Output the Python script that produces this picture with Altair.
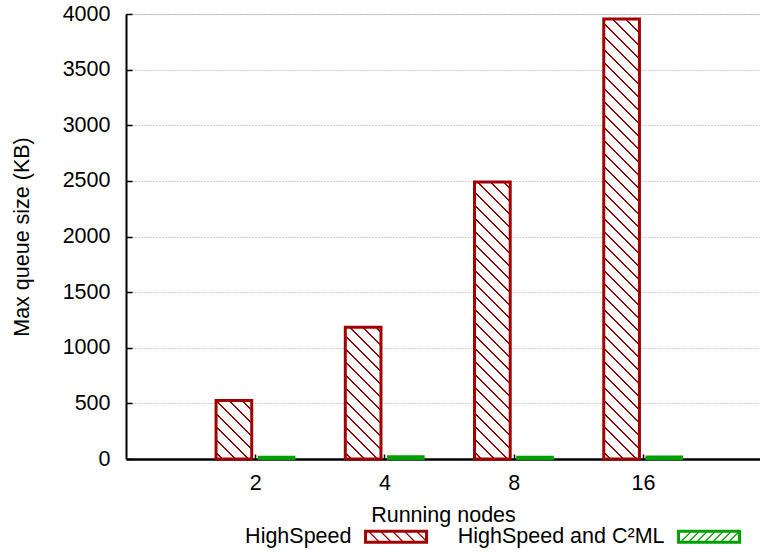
import altair as alt
import pandas as pd

# ---------------- data ----------------
nodes = ["2", "4", "8", "16"]
highspeed = [525, 1185, 2490, 3955]
highspeed_c2ml = [20, 25, 20, 22]
series_names = ["HighSpeed", "HighSpeed and C\u00b2ML"]
y_ticks = [0, 500, 1000, 1500, 2000, 2500, 3000, 3500, 4000]

# ---------------- style / layout constants ----------------
FONT = "Liberation Sans"
FS = 21.5
RED = "#a00000"
GREEN = "#00a000"
W, H = 634, 445
X_MAX = 4.906
Y_MAX = 4000
BAR_OUT, BAR_IN = 0.303, 0.027
PERIOD, LINE = 13.0, 2.0

positions = list(range(1, len(nodes) + 1))
rows = []
for p, n, a, b in zip(positions, nodes, highspeed, highspeed_c2ml):
    rows.append(dict(node=n, pos=p, series=series_names[0], value=a, lo=p - BAR_OUT, hi=p - BAR_IN))
    rows.append(dict(node=n, pos=p, series=series_names[1], value=b, lo=p + BAR_IN, hi=p + BAR_OUT))
df = pd.DataFrame(rows)

PX = W / X_MAX


def hatch(value):
    """Diagonal '\\' hatch as a hard-stop linear gradient in bbox units."""
    w = (BAR_OUT - BAR_IN) * PX
    h = value * H / Y_MAX
    span = w + h
    k = span / (w * w + h * h)
    stops = [alt.GradientStop(color="white", offset=0)]
    c = PERIOD / 2
    while c - LINE / 2 < span:
        a = round(max(0.0, (c - LINE / 2) / span), 5)
        b = round(min(1.0, (c + LINE / 2) / span), 5)
        stops += [
            alt.GradientStop(color="white", offset=a),
            alt.GradientStop(color=RED, offset=a),
            alt.GradientStop(color=RED, offset=b),
            alt.GradientStop(color="white", offset=b),
        ]
        c += PERIOD
    stops.append(alt.GradientStop(color="white", offset=1))
    return alt.LinearGradient(gradient="linear", stops=stops,
                              x1=0, y1=1, x2=round(w * k, 5), y2=round(1 - h * k, 5))


def swatch(centers, slash, x0=23.3):
    def X(v):
        return round(v + x0, 2)
    p = f"M{X(0)},-7H{X(64)}V7H{X(0)}Z M{X(3)},-4V4H{X(61)}V-4Z"
    for c in centers:
        if slash == "\\":
            p += f" M{X(c)},-4H{X(c+1.8)}L{X(c+9.8)},4H{X(c+8)}Z"
        else:
            p += f" M{X(c)},4L{X(c+8)},-4H{X(c+9.8)}L{X(c+1.8)},4Z"
    return p


RED_PATH = swatch([5, 17, 29, 41, 53], "\\")
GREEN_PATH = swatch([4, 12, 20, 28, 36, 44, 52], "/")

x_scale = alt.Scale(domain=[0, X_MAX], nice=False, zero=False)
y_scale = alt.Scale(domain=[0, Y_MAX], nice=False)

label_expr = "[" + ",".join(["''"] + [f"'{n}'" for n in nodes]) + "][datum.value]"

main_x_axis = alt.Axis(values=positions, labelExpr=label_expr, ticks=False, grid=False,
                       domainColor="black", domainWidth=2.5, labelFont=FONT, labelFontSize=FS,
                       labelColor="black", labelPadding=13, labelFlush=False,
                       title="Running nodes", titleFont=FONT, titleFontSize=FS,
                       titleFontWeight="normal", titleColor="black", titlePadding=11, orient="bottom")
main_y_axis = alt.Axis(values=y_ticks, format="d", ticks=False, grid=True, gridDash=[1, 2],
                       gridColor="#9a9a9a", gridWidth=1, domainColor="black", domainWidth=2,
                       labelFont=FONT, labelFontSize=FS, labelColor="black", labelPadding=16,
                       labelFlush=False, title="Max queue size (KB)", titleFont=FONT,
                       titleFontSize=FS, titleFontWeight="normal", titleColor="black",
                       titlePadding=29, orient="left")
tick_x_axis = alt.Axis(values=positions, labels=False, domain=False, grid=False, ticks=True,
                       tickSize=5, tickWidth=1.5, tickColor="black", offset=-5, title=None, orient="bottom")
tick_y_axis = alt.Axis(values=y_ticks, labels=False, domain=False, grid=False, ticks=True,
                       tickSize=6, tickWidth=1.5, tickColor="black", offset=-6, title=None, orient="left")


def legend(path, lx, ly):
    return alt.Legend(title=None, orient="none", legendX=lx, legendY=ly, symbolType=path,
                      symbolSize=4, symbolStrokeWidth=0, labelAlign="right", labelOffset=0,
                      labelFont=FONT, labelFontSize=FS, labelColor="black", labelLimit=0, padding=0)


base = alt.Chart(df)
is_hs = alt.datum.series == series_names[0]

layer_legend_red = base.transform_filter(is_hs).mark_bar(strokeWidth=0).encode(
    x=alt.X("lo:Q", scale=x_scale, axis=main_x_axis),
    x2="hi:Q",
    y=alt.Y("value:Q", scale=y_scale, axis=main_y_axis),
    y2=alt.datum(0),
    fill=alt.Fill("series:N", scale=alt.Scale(domain=[series_names[0]], range=[RED]),
                  legend=legend(RED_PATH, 204, 512)),
)

hatch_layers = []
for i, (n, v) in enumerate(zip(nodes, highspeed)):
    hatch_layers.append(
        base.transform_filter(is_hs & (alt.datum.node == n)).mark_bar(
            fill=hatch(v), stroke=RED, strokeWidth=3
        ).encode(
            x=alt.X("lo:Q", scale=x_scale, axis=tick_x_axis if i == 0 else None),
            x2="hi:Q",
            y=alt.Y("value:Q", scale=y_scale, axis=tick_y_axis if i == 0 else None),
            y2=alt.datum(0),
        )
    )

layer_green = base.transform_filter(alt.datum.series == series_names[1]).mark_bar(
    stroke=GREEN, strokeWidth=2
).encode(
    x=alt.X("lo:Q", scale=x_scale, axis=None),
    x2="hi:Q",
    y=alt.Y("value:Q", scale=y_scale, axis=None),
    y2=alt.datum(0),
    fill=alt.Fill("series:N", scale=alt.Scale(domain=[series_names[1]], range=[GREEN]),
                  legend=legend(GREEN_PATH, 517, 512)),
)

chart = alt.layer(layer_legend_red, *hatch_layers, layer_green).resolve_scale(
    fill="independent"
).resolve_axis(
    x="independent", y="independent"
).properties(
    width=W, height=H,
    padding={"left": 126, "top": 14, "right": 0, "bottom": 93},
    autosize=alt.AutoSizeParams(type="none"),
    background="white",
).configure_view(stroke=None).configure(font=FONT)

chart.save("out.html", embed_options={"renderer": "svg", "actions": False})
